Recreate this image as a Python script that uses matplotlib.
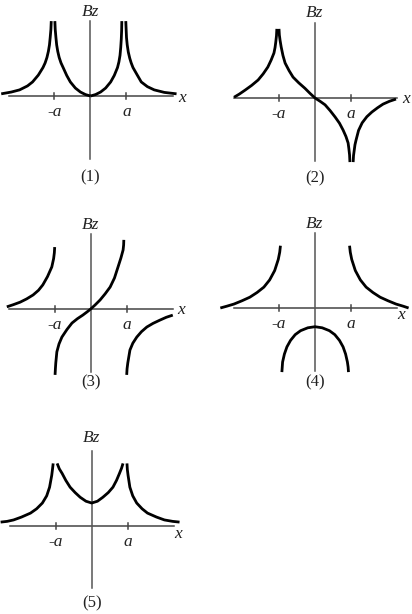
import matplotlib
matplotlib.use("Agg")
import matplotlib.pyplot as plt

# x in units of a, Bz in the same units
p1_left_x = [-2.48, -2.2, -1.97, -1.75, -1.61, -1.45, -1.32, -1.26, -1.21, -1.17, -1.14, -1.12, -1.1, -1.09]
p1_left_y = [0.06, 0.11, 0.17, 0.28, 0.39, 0.58, 0.79, 0.92, 1.07, 1.24, 1.42, 1.62, 1.85, 2.08]
p1_midl_x = [-0.99, -0.98, -0.96, -0.94, -0.91, -0.87, -0.82, -0.76, -0.66, -0.56, -0.42, -0.28, -0.14, 0.0]
p1_midl_y = [2.08, 1.85, 1.62, 1.42, 1.24, 1.07, 0.92, 0.79, 0.57, 0.39, 0.22, 0.11, 0.04, 0.0]
p1_midr_x = [0.0, 0.14, 0.28, 0.42, 0.56, 0.66, 0.75, 0.79, 0.82, 0.84, 0.855, 0.865, 0.87]
p1_midr_y = [0.0, 0.04, 0.11, 0.22, 0.39, 0.57, 0.79, 0.95, 1.13, 1.35, 1.58, 1.82, 2.08]
p1_right_x = [0.98, 0.99, 1.0, 1.02, 1.05, 1.09, 1.13, 1.18, 1.3, 1.41, 1.58, 1.77, 2.05, 2.39]
p1_right_y = [2.08, 1.85, 1.62, 1.42, 1.22, 1.05, 0.92, 0.79, 0.58, 0.39, 0.26, 0.17, 0.1, 0.06]

p2_left_x = [-2.25, -2.1, -1.94, -1.76, -1.58, -1.44, -1.31, -1.22, -1.14, -1.11, -1.09, -1.07, -1.06]
p2_left_y = [0.02, 0.11, 0.22, 0.35, 0.5, 0.67, 0.86, 1.05, 1.25, 1.4, 1.55, 1.73, 1.92]
p2_mid_x = [-1.0, -0.99, -0.97, -0.94, -0.89, -0.83, -0.72, -0.61, -0.45, -0.28, -0.14, 0.0,
            0.14, 0.28, 0.42, 0.56, 0.68, 0.78, 0.86, 0.92, 0.94, 0.96, 0.97]
p2_mid_y = [1.92, 1.75, 1.6, 1.42, 1.18, 0.97, 0.76, 0.58, 0.42, 0.27, 0.13, 0.0,
            -0.09, -0.19, -0.35, -0.53, -0.7, -0.89, -1.07, -1.25, -1.4, -1.58, -1.78]
p2_right_x = [1.06, 1.07, 1.09, 1.11, 1.14, 1.21, 1.31, 1.44, 1.58, 1.74, 1.89, 2.07, 2.25]
p2_right_y = [-1.78, -1.6, -1.45, -1.3, -1.17, -0.9, -0.69, -0.52, -0.39, -0.27, -0.17, -0.09, -0.03]

p3_left_x = [-2.33, -2.15, -1.96, -1.78, -1.6, -1.45, -1.33, -1.2, -1.08, -1.03, -1.01, -1.0]
p3_left_y = [0.06, 0.12, 0.19, 0.28, 0.39, 0.52, 0.67, 0.9, 1.17, 1.4, 1.56, 1.72]
p3_mid_x = [-0.99, -0.98, -0.97, -0.94, -0.88, -0.8, -0.66, -0.52, -0.37, -0.22, -0.1, 0.0,
            0.12, 0.26, 0.4, 0.54, 0.66, 0.76, 0.84, 0.9, 0.915, 0.92]
p3_mid_y = [-1.83, -1.65, -1.5, -1.19, -0.97, -0.78, -0.57, -0.39, -0.27, -0.17, -0.08, 0.0,
            0.11, 0.25, 0.42, 0.61, 0.86, 1.17, 1.42, 1.64, 1.78, 1.92]
p3_right_x = [1.0, 1.01, 1.03, 1.09, 1.17, 1.28, 1.41, 1.56, 1.73, 1.92, 2.1, 2.28]
p3_right_y = [-1.83, -1.66, -1.5, -1.14, -0.95, -0.78, -0.63, -0.5, -0.4, -0.31, -0.23, -0.17]

p4_left_x = [-2.63, -2.45, -2.25, -2.03, -1.81, -1.61, -1.42, -1.26, -1.12, -1.02, -0.98, -0.96]
p4_left_y = [0.0, 0.05, 0.11, 0.2, 0.3, 0.43, 0.58, 0.78, 1.04, 1.35, 1.55, 1.73]
p4_right_x = [0.96, 0.98, 1.02, 1.12, 1.26, 1.42, 1.61, 1.81, 2.03, 2.25, 2.45, 2.6]
p4_right_y = [1.73, 1.55, 1.35, 1.04, 0.78, 0.58, 0.43, 0.3, 0.2, 0.11, 0.05, 0.0]
p4_mid_x = [-0.92, -0.91, -0.9, -0.85, -0.78, -0.68, -0.55, -0.4, -0.2, 0.0,
            0.2, 0.4, 0.55, 0.68, 0.78, 0.85, 0.9, 0.92, 0.93]
p4_mid_y = [-1.78, -1.64, -1.5, -1.28, -1.08, -0.9, -0.74, -0.63, -0.55, -0.52,
            -0.55, -0.63, -0.74, -0.9, -1.08, -1.28, -1.5, -1.64, -1.78]

p5_left_x = [-2.53, -2.35, -2.17, -1.95, -1.7, -1.53, -1.37, -1.25, -1.17, -1.11, -1.09, -1.07]
p5_left_y = [0.1, 0.12, 0.16, 0.24, 0.35, 0.47, 0.63, 0.83, 1.07, 1.4, 1.56, 1.73]
p5_mid_x = [-0.96, -0.9, -0.82, -0.72, -0.6, -0.46, -0.32, -0.16, 0.0,
            0.16, 0.31, 0.46, 0.59, 0.69, 0.77, 0.83, 0.87]
p5_mid_y = [1.73, 1.58, 1.45, 1.26, 1.07, 0.92, 0.79, 0.68, 0.63,
            0.68, 0.79, 0.92, 1.07, 1.26, 1.45, 1.6, 1.73]
p5_right_x = [0.98, 0.99, 1.01, 1.06, 1.14, 1.25, 1.4, 1.55, 1.8, 2.02, 2.25, 2.44]
p5_right_y = [1.73, 1.56, 1.4, 1.07, 0.83, 0.63, 0.47, 0.35, 0.24, 0.16, 0.12, 0.1]

panel_labels = ["(1)", "(2)", "(3)", "(4)", "(5)"]
tick_labels = ["-a", "a"]
tick_pos = [-1, 1]

panels = [
    [(p1_left_x, p1_left_y), (p1_midl_x, p1_midl_y), (p1_midr_x, p1_midr_y), (p1_right_x, p1_right_y)],
    [(p2_left_x, p2_left_y), (p2_mid_x, p2_mid_y), (p2_right_x, p2_right_y)],
    [(p3_left_x, p3_left_y), (p3_mid_x, p3_mid_y), (p3_right_x, p3_right_y)],
    [(p4_left_x, p4_left_y), (p4_mid_x, p4_mid_y), (p4_right_x, p4_right_y)],
    [(p5_left_x, p5_left_y), (p5_mid_x, p5_mid_y), (p5_right_x, p5_right_y)],
]

W, H = 412, 614
# origin of each little plot in pixels, and pixels per unit a
origins = [(90.5, 96), (315, 98), (90.7, 309), (315, 308), (91.7, 525.7)]
scale = 36.0
half_w, half_h = 110, 100
# where the x label and the (n) caption sit, per panel (in units of a)
xlab_pos = [(2.54, -0.05), (2.53, -0.03), (2.51, -0.03), (2.39, -0.19), (2.4, -0.23)]
cap_y = [-2.25, -2.22, -2.05, -2.08, -2.15]
bz_y = [2.33, 2.36, 2.33, 2.33, 2.44]

fig = plt.figure(figsize=(W / 100, H / 100), dpi=100)
serif = ["Liberation Serif", "DejaVu Serif"]
txt = "#222222"

for i, branches in enumerate(panels):
    ox, oy = origins[i]
    ax = fig.add_axes([(ox - half_w) / W, (H - oy - half_h) / H, 2 * half_w / W, 2 * half_h / H])
    ax.set_xlim(-half_w / scale, half_w / scale)
    ax.set_ylim(-half_h / scale, half_h / scale)
    ax.axis("off")

    # axes lines and ticks
    ax.plot([-2.26, 2.28], [0, 0], color="#444444", lw=1.1, clip_on=False)
    ax.plot([0, 0], [-1.74, 2.07], color="#555555", lw=1.1, clip_on=False)
    for t in tick_pos:
        ax.plot([t, t], [-0.08, 0.08], color="#444444", lw=1.1)

    for bx, by in branches:
        ax.plot(bx, by, color="black", lw=2.0, solid_capstyle="butt",
                solid_joinstyle="round", clip_on=False)

    ax.text(0, bz_y[i], "Bz", ha="center", va="center", fontsize=12.5,
            family=serif, style="italic", color=txt)
    for t, lab in zip(tick_pos, tick_labels):
        ax.text(t, -0.44, lab, ha="center", va="center", fontsize=12.5,
                family=serif, style="italic", color=txt)
    ax.text(xlab_pos[i][0], xlab_pos[i][1], "x", ha="center", va="center", fontsize=12.5,
            family=serif, style="italic", color=txt)
    ax.text(0, cap_y[i], panel_labels[i], ha="center", va="center", fontsize=12,
            family=serif, color=txt)

fig.savefig("out.png", dpi=100)
